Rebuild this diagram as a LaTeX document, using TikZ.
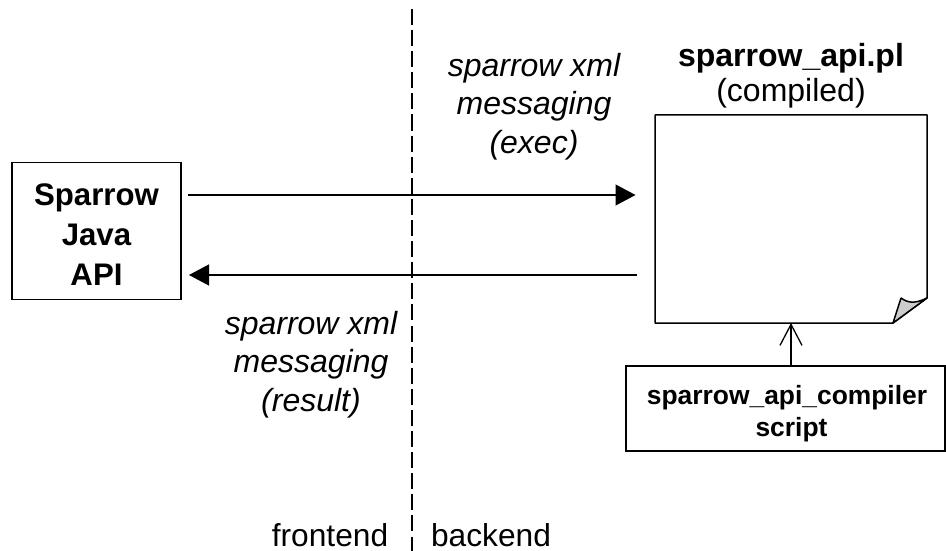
\documentclass[tikz,border=0pt]{standalone}
\usepackage{fontspec}
\setmainfont{Liberation Sans}
\usetikzlibrary{arrows.meta}
\tikzset{
	boxnode/.style={draw, line width=1.5pt, fill=white, align=center, inner sep=0pt},
	labelnode/.style={align=center, inner sep=0pt},
	msgarrow/.style={line width=1.3pt, -{Triangle[length=20pt,width=21pt]}},
	openarrow/.style={line width=1.3pt, -{Straight Barb[length=21pt,width=22pt,line width=1.3pt]}}
}
\begin{document}
\begin{tikzpicture}[x=1pt, y=-1pt]
			%%%%% START %%%%%
			\useasboundingbox (0, 0) rectangle (946, 551);
			
			\coordinate (divtop) at (412, 9);
			\coordinate (divbot) at (412, 551);
			\draw[line width=1.4pt, dash pattern=on 16pt off 5.1pt] (divtop) -- (divbot);
			
			\node[boxnode, font=\fontsize{31.2}{40}\selectfont\bfseries, minimum width=169pt, minimum height=137pt] (java) at (96.5, 231) {\rule{0pt}{29pt}Sparrow\\Java\\API};
			
			\draw[line width=1.5pt, line join=bevel, fill=white] (655, 115) -- (927, 115) -- (927, 298) -- (893, 323) -- (655, 323) -- cycle;
			\draw[line width=1.5pt, line join=bevel, fill=black!20] (927, 298) .. controls (915, 304) and (908, 303) .. (901, 298) -- (893, 323) -- cycle;
			\coordinate (docin) at (791, 323);
			\coordinate (docleft1) at (635.5, 195);
			\coordinate (docleft2) at (637, 275);
			\coordinate (javaout) at (188, 195);
			\coordinate (javain) at (189, 275);
			
			\draw[msgarrow] (javaout) -- (docleft1);
			\draw[msgarrow] (docleft2) -- (javain);
			
			\node[boxnode, font=\fontsize{26.4}{31.5}\selectfont\bfseries, minimum width=319pt, minimum height=85pt] (compiler) at (785.5, 408.5) {\rule{0pt}{29pt}\hspace*{3pt}sparrow\_api\_compiler\\\hspace*{12pt}script};
			\draw[openarrow] (compiler.north -| docin) -- (docin);
			
			\node[labelnode, font=\fontsize{32}{35}\selectfont] (doclabel) at (791, 76) {\textbf{sparrow\_api.pl}\\(compiled)};
			\node[labelnode, font=\fontsize{32}{38.5}\selectfont\itshape] (execlabel) at (534, 106.5) {sparrow xml\\messaging\\(exec)};
			\node[labelnode, font=\fontsize{32}{38.5}\selectfont\itshape] (resultlabel) at (311, 364.5) {sparrow xml\\messaging\\(result)};
			\node[labelnode, font=\fontsize{31.7}{35}\selectfont, anchor=base] (frontend) at (330, 546) {frontend};
			\node[labelnode, font=\fontsize{31.7}{35}\selectfont, anchor=base] (backend) at (491, 546) {backend};
			%%%%% END %%%%%
		\end{tikzpicture}
\end{document}
